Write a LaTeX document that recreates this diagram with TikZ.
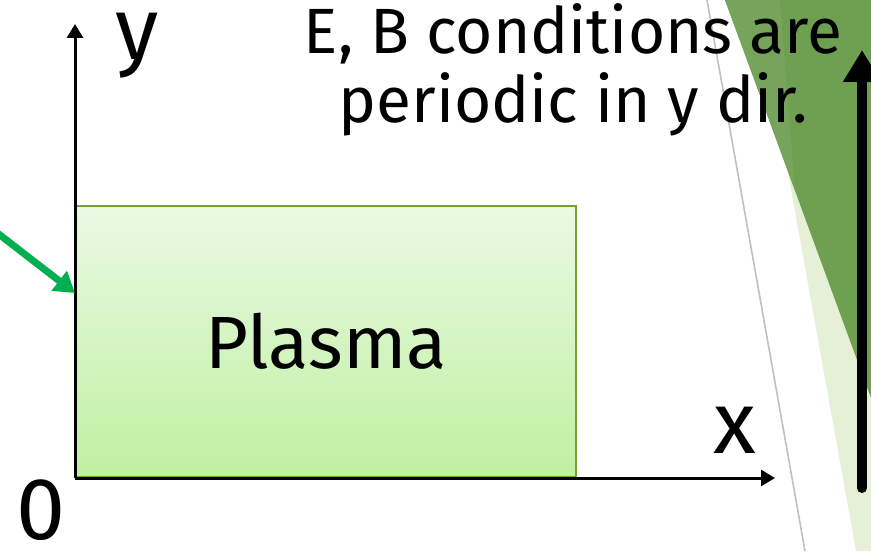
\documentclass[tikz,border=0pt]{standalone}
\usepackage{fontspec}
\setmainfont{Fira Sans}
\usetikzlibrary{arrows.meta,positioning}
\definecolor{bcInk}{HTML}{000000}
\definecolor{bcPlTop}{HTML}{EAF9E4}
\definecolor{bcPlBot}{HTML}{BFF0A0}
\definecolor{bcPlEdge}{HTML}{78A030}
\definecolor{bcArrow}{HTML}{00B050}
\definecolor{bcDark}{HTML}{6F9F50}
\definecolor{bcDarkLt}{HTML}{76A45A}
\definecolor{bcLight}{HTML}{E6F0D6}
\definecolor{bcGrey}{HTML}{C0C0C0}
\tikzset{
  axis/.style={-{Triangle[length=7pt,width=8pt]}, line width=1.5pt, draw=bcInk},
  lbl/.style={inner sep=0pt, font=\fontsize{44}{48}\selectfont},
  note/.style={inner sep=0pt, align=center, font=\fontsize{32}{34.5}\selectfont},
  plasma/.style={draw=bcPlEdge, line width=1pt, top color=bcPlTop, bottom color=bcPlBot,
    minimum width=250pt, minimum height=135.5pt, inner sep=0pt, font=\fontsize{37}{40}\selectfont},
  hint/.style={-{Triangle[length=10pt,width=12pt]}, line width=3.5pt, draw=bcArrow},
  period/.style={-{Triangle[length=16pt,width=18pt]}, line width=5pt, line cap=round, draw=bcInk},
}
\begin{document}
\begin{tikzpicture}[x=0.5pt,y=-0.5pt]
  \useasboundingbox (0,0) rectangle (871,551);
  % slide decoration on the right
  \fill[bcLight] (757,0) -- (871,0) -- (871,551) -- (856,551) -- cycle;
  \fill[bcDark] (725,0) -- (871,0) -- (871,398) -- cycle;
  \fill[bcDarkLt] (725,0) -- (780,0) -- (795,190) -- cycle;
  \draw[bcGrey, line width=0.8pt] (707,0) -- (805,551);
  % axes
  \coordinate (origin) at (75,478);
  \coordinate (xend) at (775,478);
  \coordinate (yend) at (75,24);
  \node[plasma, anchor=south west] (plasma) at (origin) {Plasma};
  \draw[axis] (origin) -- (xend);
  \draw[axis] (origin) -- (yend);
  \node[lbl] (xlbl) at (735,430) {x};
  \node[lbl] (ylbl) at (137,46) {y};
  \node[lbl] (zero) at (41,510) {0};
  % boundary hint
  \coordinate (hintstart) at (-4,232);
  \coordinate (hinttip) at (75,293);
  \draw[hint] (hintstart) -- (hinttip);
  % periodic note
  \node[note] (cond) at (573,70) {E, B conditions are\\periodic in y dir.};
  \coordinate (pbot) at (862,488);
  \coordinate (ptop) at (862,50);
  \draw[period] (pbot) -- (ptop);
\end{tikzpicture}
\end{document}
